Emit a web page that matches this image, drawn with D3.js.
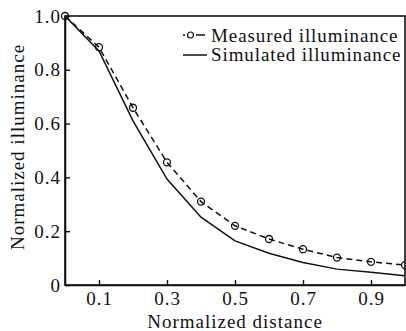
<!DOCTYPE html>
<html>
<head>
<meta charset="utf-8">
<script src="https://cdn.jsdelivr.net/npm/d3@7"></script>
<style>
  body { margin: 0; background: #fff; }
  text { font-family: "Liberation Serif", "Times New Roman", serif; fill: #111; }
</style>
</head>
<body>
<div id="chart"></div>
<script>

// normalized illuminance vs normalized distance

const distance = [0, 0.1, 0.2, 0.3, 0.4, 0.5, 0.6, 0.7, 0.8, 0.9, 1.0];
const measured = [1.0, 0.884, 0.659, 0.456, 0.31, 0.22, 0.171, 0.133, 0.102, 0.086, 0.074];
const simulated = [1.0, 0.87, 0.61, 0.394, 0.252, 0.164, 0.118, 0.084, 0.059, 0.047, 0.034];

const xTicks = [0.1, 0.3, 0.5, 0.7, 0.9];
const yTicks = [0, 0.2, 0.4, 0.6, 0.8, 1.0];

const seriesNames = ['Measured illuminance', 'Simulated illuminance'];

let margin = {top: 16, right: 1, bottom: 46, left: 65};
let width = 406 - margin.left - margin.right;
let height = 331 - margin.top - margin.bottom;

let svg = d3.select('#chart').append('svg')
    .attr('width', 406)
    .attr('height', 331)
    .append('g')
    .attr('transform', `translate(${margin.left}, ${margin.top})`);

let x = d3.scaleLinear().domain([0, 1]).range([0, width]);
let y = d3.scaleLinear().domain([0, 1]).range([height, 0]);

// frame
svg.append('rect')
    .attr('x', 0).attr('y', 0)
    .attr('width', width).attr('height', height)
    .attr('fill', 'none')
    .attr('stroke', '#111')
    .attr('stroke-width', 1.6);

// axes with inward ticks
let xAxis = svg.append('g')
    .attr('transform', `translate(0, ${height})`)
    .call(d3.axisBottom(x).tickValues(xTicks).tickSizeInner(-5).tickSizeOuter(0)
        .tickPadding(7).tickFormat(d3.format('.1f')));

let yAxis = svg.append('g')
    .call(d3.axisLeft(y).tickValues(yTicks).tickSizeInner(-5).tickSizeOuter(0)
        .tickPadding(10).tickFormat(d => d === 0 ? '0' : d3.format('.1f')(d)));

[xAxis, yAxis].forEach(g => {
    g.select('.domain').attr('stroke', '#111').attr('stroke-width', 1.6);
    g.selectAll('.tick line').attr('stroke', '#111').attr('stroke-width', 1.4);
    g.selectAll('.tick text')
        .style('font-family', '"Liberation Serif", serif')
        .style('font-size', '19px')
        .style('letter-spacing', '1px')
        .attr('fill', '#111');
});
yAxis.selectAll('.tick text').attr('x', -4);

// lines
let line = d3.line()
    .x((d, i) => x(distance[i]))
    .y(d => y(d));

svg.append('path')
    .datum(simulated)
    .attr('d', line)
    .attr('fill', 'none')
    .attr('stroke', '#111')
    .attr('stroke-width', 1.5);

svg.append('path')
    .datum(measured)
    .attr('d', line)
    .attr('fill', 'none')
    .attr('stroke', '#111')
    .attr('stroke-width', 1.5)
    .attr('stroke-dasharray', '6,4');

svg.selectAll('.marker')
    .data(measured)
    .enter()
    .append('circle')
    .attr('class', 'marker')
    .attr('cx', (d, i) => x(distance[i]))
    .attr('cy', d => y(d))
    .attr('r', 3.5)
    .attr('fill', 'none')
    .attr('stroke', '#111')
    .attr('stroke-width', 1.3);

// legend
let legend = svg.append('g').attr('transform', 'translate(118, 19)');

legend.append('line')
    .attr('x1', 0).attr('x2', 23).attr('y1', 0).attr('y2', 0)
    .attr('stroke', '#111').attr('stroke-width', 1.3)
    .attr('stroke-dasharray', '2,11,9');
legend.append('circle')
    .attr('cx', 7.5).attr('cy', 0).attr('r', 3)
    .attr('fill', 'none').attr('stroke', '#111').attr('stroke-width', 1.2);
legend.append('line')
    .attr('x1', 0).attr('x2', 24).attr('y1', 20).attr('y2', 20)
    .attr('stroke', '#111').attr('stroke-width', 1.5);

legend.selectAll('.legend-text')
    .data(seriesNames)
    .enter()
    .append('text')
    .attr('class', 'legend-text')
    .attr('x', 28)
    .attr('y', (d, i) => 7 + i * 19)
    .style('font-size', '19px')
    .style('letter-spacing', '0.9px')
    .text(d => d);

// axis labels
svg.append('text')
    .attr('x', width / 2)
    .attr('y', height + 43)
    .attr('text-anchor', 'middle')
    .style('font-size', '19px')
    .style('letter-spacing', '1px')
    .text('Normalized distance');

svg.append('text')
    .attr('transform', `translate(-41, ${131}) rotate(-90)`)
    .attr('text-anchor', 'middle')
    .style('font-size', '19px')
    .style('letter-spacing', '1px')
    .text('Normalized illuminance');

</script>
</body>
</html>
